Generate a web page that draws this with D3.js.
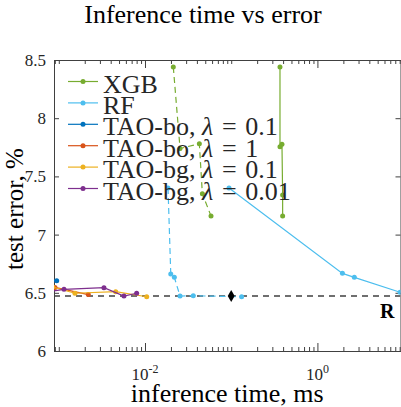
<!DOCTYPE html>
<html>
<head>
<meta charset="utf-8">
<style>
body { margin: 0; background: #fff; }
text { font-family: "Liberation Serif", serif; fill: #262626; }
.axis path, .axis line { stroke: #404040; stroke-width: 1; }
</style>
</head>
<body>
<div id="ch1"></div>
<script src="https://d3js.org/d3.v7.min.js"></script>
<script>
// values (time in ms, error in %)
var xgbDashTime = [0.0213, 0.0255, 0.0427, 0.0463, 0.0583];
var xgbDashErr  = [8.44, 7.74, 7.78, 7.35, 7.16];
var xgbTime = [0.368, 0.368, 0.388, 0.395, 0.395];
var xgbErr  = [8.44, 7.755, 7.776, 7.34, 7.16];
var rfDashTime = [0.0185, 0.0199, 0.0219, 0.0255, 0.0363, 0.132];
var rfDashErr  = [7.40, 6.662, 6.633, 6.472, 6.475, 6.466];
var rfTime = [0.0943, 1.95, 2.68, 9.1];
var rfErr  = [7.40, 6.667, 6.633, 6.505];
var boL01Time = [0.0006, 0.000946];
var boL01Err  = [6.62, 6.604];
var boL1Time = [0.000903, 0.0022];
var boL1Err  = [6.546, 6.485];
var bgL01Time = [0.00085, 0.00154, 0.00457, 0.01047];
var bgL01Err  = [6.55, 6.496, 6.51, 6.466];
var bgL001Time = [0.0007, 0.00115, 0.00334, 0.0057, 0.0080];
var bgL001Err  = [6.505, 6.53, 6.544, 6.4725, 6.496];
var refTime = 0.1, refErr = 6.4725;

var yTicks = [6, 6.5, 7, 7.5, 8, 8.5];
var xMajor = [0.01, 1];

var series = [
  {name: "XGB", t: xgbDashTime, e: xgbDashErr, color: "#77AC30", dash: true, legend: false},
  {name: "XGB", t: xgbTime, e: xgbErr, color: "#77AC30", dash: false, legend: true},
  {name: "RF", t: rfDashTime, e: rfDashErr, color: "#4DBEEE", dash: true, legend: false},
  {name: "RF", t: rfTime, e: rfErr, color: "#4DBEEE", dash: false, legend: true},
  {name: "TAO-bo", lam: "0.1", t: boL01Time, e: boL01Err, color: "#0072BD", dash: false, legend: true},
  {name: "TAO-bo", lam: "1", t: boL1Time, e: boL1Err, color: "#D95319", dash: false, legend: true},
  {name: "TAO-bg", lam: "0.1", t: bgL01Time, e: bgL01Err, color: "#EDB120", dash: false, legend: true},
  {name: "TAO-bg", lam: "0.01", t: bgL001Time, e: bgL001Err, color: "#7E2F8E", dash: false, legend: true}
];

var W = 401, H = 407;
var L = 54, R = 400.5, T = 60, B = 351;

var x = d3.scaleLog().domain([8.8e-4, 9.2]).range([L, R]);
var y = d3.scaleLinear().domain([6, 8.5]).range([B, T]);

var svg = d3.select("#ch1").append("svg")
  .attr("width", W).attr("height", H);

svg.append("clipPath").attr("id", "clip")
  .append("rect").attr("x", L).attr("y", T).attr("width", R - L).attr("height", B - T);

// minor log ticks
var minors = [];
for (var k = -4; k <= 1; k++) {
  for (var m = 1; m <= 9; m++) {
    var v = m * Math.pow(10, k);
    if (v >= x.domain()[0] && v <= x.domain()[1] && xMajor.indexOf(+v.toPrecision(3)) < 0) minors.push(v);
  }
}

svg.append("g").attr("class", "axis")
  .attr("transform", "translate(0," + B + ")")
  .call(d3.axisBottom(x).tickValues(minors).tickSize(-4).tickSizeOuter(0).tickFormat(""));
svg.append("g").attr("class", "axis")
  .attr("transform", "translate(0," + B + ")")
  .call(d3.axisBottom(x).tickValues(xMajor).tickSize(-8).tickSizeOuter(0).tickFormat(""))
  .select(".domain").remove();
svg.append("g").attr("class", "axis")
  .attr("transform", "translate(0," + T + ")")
  .call(d3.axisTop(x).tickValues(minors).tickSize(-4).tickSizeOuter(0).tickFormat(""));
svg.append("g").attr("class", "axis")
  .attr("transform", "translate(0," + T + ")")
  .call(d3.axisTop(x).tickValues(xMajor).tickSize(-8).tickSizeOuter(0).tickFormat(""))
  .select(".domain").remove();

var yAxis = svg.append("g").attr("class", "axis")
  .attr("transform", "translate(" + L + ",0)")
  .call(d3.axisLeft(y).tickValues(yTicks).tickSize(-5).tickSizeOuter(0).tickPadding(8).tickFormat(d3.format("")));
yAxis.attr("font-family", "Liberation Serif").attr("font-size", 17);
yAxis.selectAll("text")
  .attr("fill", "#262626")
  .style("font-family", "'Liberation Serif', serif")
  .style("font-size", "17px");

svg.append("g").attr("class", "axis")
  .attr("transform", "translate(" + R + ",0)")
  .call(d3.axisRight(y).tickValues(yTicks).tickSize(-5).tickSizeOuter(0).tickFormat(""));

// x tick labels 10^k
xMajor.forEach(function(v) {
  var t = svg.append("text")
    .attr("x", x(v)).attr("y", 380)
    .attr("text-anchor", "middle")
    .style("font-size", "17px");
  t.append("tspan").text("10");
  t.append("tspan").attr("dy", -7).style("font-size", "12px").text(Math.round(Math.log10(v)));
});

var plot = svg.append("g").attr("clip-path", "url(#clip)");

// reference line
plot.append("line")
  .attr("x1", L).attr("x2", R)
  .attr("y1", y(refErr)).attr("y2", y(refErr))
  .attr("stroke", "#404040").attr("stroke-width", 1.3)
  .attr("stroke-dasharray", "6,5");

var line = d3.line().x(function(d) { return x(d[0]); }).y(function(d) { return y(d[1]); });

series.forEach(function(s) {
  var pts = s.t.map(function(t, i) { return [t, s.e[i]]; });
  plot.append("path")
    .attr("d", line(pts))
    .attr("fill", "none")
    .attr("stroke", s.color)
    .attr("stroke-width", 1.2)
    .attr("stroke-dasharray", s.dash ? "6,4" : null);
  plot.selectAll(null).data(pts).enter().append("circle")
    .attr("cx", function(d) { return x(d[0]); })
    .attr("cy", function(d) { return y(d[1]); })
    .attr("r", 2.5)
    .attr("fill", s.color);
});

plot.append("path")
  .attr("d", d3.symbol().type(d3.symbolDiamond).size(42)())
  .attr("transform", "translate(" + x(refTime) + "," + y(refErr) + ")")
  .attr("fill", "#000");

svg.append("text")
  .attr("x", 380).attr("y", 318)
  .style("font-size", "20px").style("font-weight", "bold")
  .style("fill", "#000")
  .text("R");

// legend, no box
var leg = svg.append("g");
series.filter(function(s) { return s.legend; }).forEach(function(s, i) {
  var ry = 81.5 + i * 21.4;
  leg.append("line")
    .attr("x1", 68).attr("x2", 98).attr("y1", ry).attr("y2", ry)
    .attr("stroke", s.color).attr("stroke-width", 1.2);
  leg.append("circle").attr("cx", 83).attr("cy", ry).attr("r", 2.5).attr("fill", s.color);
  var t = leg.append("text")
    .attr("x", 103).attr("y", ry + 11)
    .style("font-size", "26px");
  if (s.lam) {
    t.append("tspan").text(s.name + ", ");
    t.append("tspan").style("font-style", "italic").text("λ");
    t.append("tspan").text("\u200A = \u200A" + s.lam);
  } else {
    t.text(s.name);
  }
});

// titles
svg.append("text")
  .attr("x", 203).attr("y", 23)
  .attr("text-anchor", "middle")
  .style("font-size", "26px")
  .style("fill", "#000")
  .text("Inference time vs error");

svg.append("text")
  .attr("x", (L + R) / 2).attr("y", 402)
  .attr("text-anchor", "middle")
  .style("font-size", "26px")
  .style("fill", "#000")
  .text("inference time, ms");

svg.append("text")
  .attr("transform", "translate(23," + 209 + ") rotate(-90)")
  .attr("text-anchor", "middle")
  .style("font-size", "25px")
  .style("fill", "#000")
  .text("test error, %");
</script>
</body>
</html>
